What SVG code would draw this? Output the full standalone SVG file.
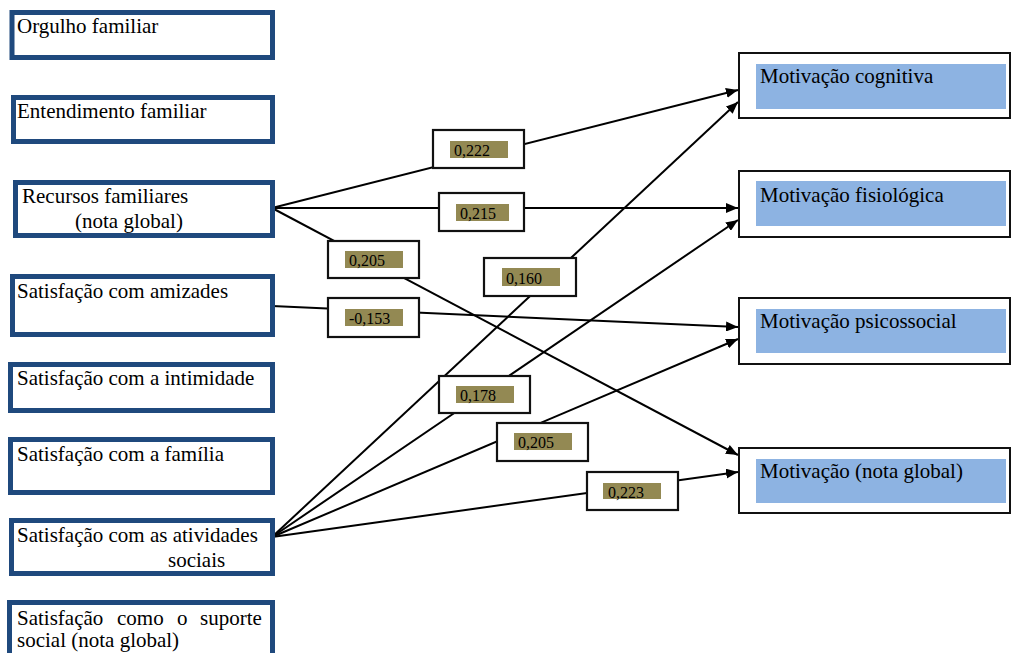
<svg xmlns="http://www.w3.org/2000/svg" width="1012" height="653" viewBox="0 0 1012 653">
<style>
.src{fill:#fff;stroke:#1F497D;stroke-width:5}
.dst{fill:#fff;stroke:#111;stroke-width:2}
.hl{fill:#8DB3E2}
.lb{fill:#fff;stroke:#111;stroke-width:2.2}
.ol{fill:#938953}
.t{font-family:"Liberation Serif","Times New Roman",serif;font-size:21px;fill:#000}
.n{font-family:"Liberation Serif","Times New Roman",serif;font-size:16px;fill:#000}
.c{fill:none;stroke:#000;stroke-width:2;marker-end:url(#ah)}
</style>
<defs>
<marker id="ah" viewBox="0 0 12 10" refX="12" refY="5" markerWidth="12" markerHeight="10" markerUnits="userSpaceOnUse" orient="auto">
<path d="M0,0 L12,5 L0,10 Z" fill="#000"/>
</marker>
</defs>
<rect width="1012" height="653" fill="#fff"/>

<g id="connectors">
<line class="c" x1="272" y1="208" x2="738" y2="90"/>
<line class="c" x1="272" y1="208" x2="738" y2="208"/>
<line class="c" x1="272" y1="208" x2="738" y2="455"/>
<line class="c" x1="272" y1="306" x2="738" y2="327"/>
<line class="c" x1="272" y1="537" x2="738" y2="102"/>
<line class="c" x1="272" y1="537" x2="738" y2="220"/>
<line class="c" x1="272" y1="537" x2="738" y2="339"/>
<line class="c" x1="272" y1="537" x2="738" y2="472"/>
</g>

<g id="labels">
<g id="l-0222"><rect class="lb" x="433" y="130" width="91" height="38"/><rect class="ol" x="450" y="141" width="58" height="17"/><text class="n" x="454" y="156">0,222</text></g>
<g id="l-0215"><rect class="lb" x="439" y="193" width="85" height="38"/><rect class="ol" x="456" y="204" width="53" height="17"/><text class="n" x="460" y="219">0,215</text></g>
<g id="l-0205a"><rect class="lb" x="328" y="241" width="91" height="37"/><rect class="ol" x="345" y="251" width="58" height="17"/><text class="n" x="349" y="266">0,205</text></g>
<g id="l-0160"><rect class="lb" x="484" y="258" width="92" height="38"/><rect class="ol" x="502" y="268" width="58" height="18"/><text class="n" x="506" y="284">0,160</text></g>
<g id="l-0153"><rect class="lb" x="328" y="298" width="91" height="39"/><rect class="ol" x="345" y="309" width="58" height="17"/><text class="n" x="349" y="324">-0,153</text></g>
<g id="l-0178"><rect class="lb" x="439" y="376" width="91" height="37"/><rect class="ol" x="456" y="386" width="58" height="17"/><text class="n" x="460" y="401">0,178</text></g>
<g id="l-0205b"><rect class="lb" x="497" y="423" width="91" height="38"/><rect class="ol" x="514" y="433" width="58" height="17"/><text class="n" x="518" y="448">0,205</text></g>
<g id="l-0223"><rect class="lb" x="587" y="472" width="91" height="38"/><rect class="ol" x="603" y="483" width="58" height="16"/><text class="n" x="608" y="498">0,223</text></g>
</g>

<g id="n-orgulho"><rect class="src" x="12" y="12.5" width="260.5" height="45"/><text class="t" x="17" y="33">Orgulho familiar</text></g>
<g id="n-entendimento"><rect class="src" x="13.5" y="97.5" width="259" height="44"/><text class="t" x="17" y="118">Entendimento familiar</text></g>
<g id="n-recursos"><rect class="src" x="15.5" y="182.5" width="257" height="53"/><text class="t" x="22" y="203">Recursos familiares</text><text class="t" x="75" y="228">(nota global)</text></g>
<g id="n-amizades"><rect class="src" x="12.5" y="276.5" width="260" height="58"/><text class="t" x="17" y="298">Satisfação com amizades</text></g>
<g id="n-intimidade"><rect class="src" x="10.5" y="364.5" width="262" height="46"/><text class="t" x="17" y="385">Satisfação com a intimidade</text></g>
<g id="n-familia"><rect class="src" x="10.5" y="439.5" width="262" height="53"/><text class="t" x="17" y="461">Satisfação com a família</text></g>
<g id="n-atividades"><rect class="src" x="11.5" y="520.5" width="261" height="53"/><text class="t" x="17" y="542">Satisfação com as atividades</text><text class="t" x="168" y="567">sociais</text></g>
<g id="n-suporte"><rect class="src" x="9.5" y="602.5" width="263" height="60"/><text class="t" y="625"><tspan x="17">Satisfação</tspan><tspan x="117">como</tspan><tspan x="177">o</tspan><tspan x="200">suporte</tspan></text><text class="t" x="17" y="647">social (nota global)</text></g>

<g id="n-cognitiva"><rect class="dst" x="739" y="53" width="271" height="65"/><rect class="hl" x="756" y="64" width="250" height="45"/><text class="t" x="760" y="83">Motivação cognitiva</text></g>
<g id="n-fisiologica"><rect class="dst" x="739" y="171" width="271" height="66"/><rect class="hl" x="756" y="181" width="250" height="45"/><text class="t" x="760" y="202">Motivação fisiológica</text></g>
<g id="n-psicossocial"><rect class="dst" x="739" y="298" width="271" height="66"/><rect class="hl" x="756" y="309" width="250" height="44"/><text class="t" x="760" y="328">Motivação psicossocial</text></g>
<g id="n-global"><rect class="dst" x="739" y="448" width="271" height="65"/><rect class="hl" x="756" y="459" width="250" height="44"/><text class="t" x="760" y="478">Motivação (nota global)</text></g>
</svg>
